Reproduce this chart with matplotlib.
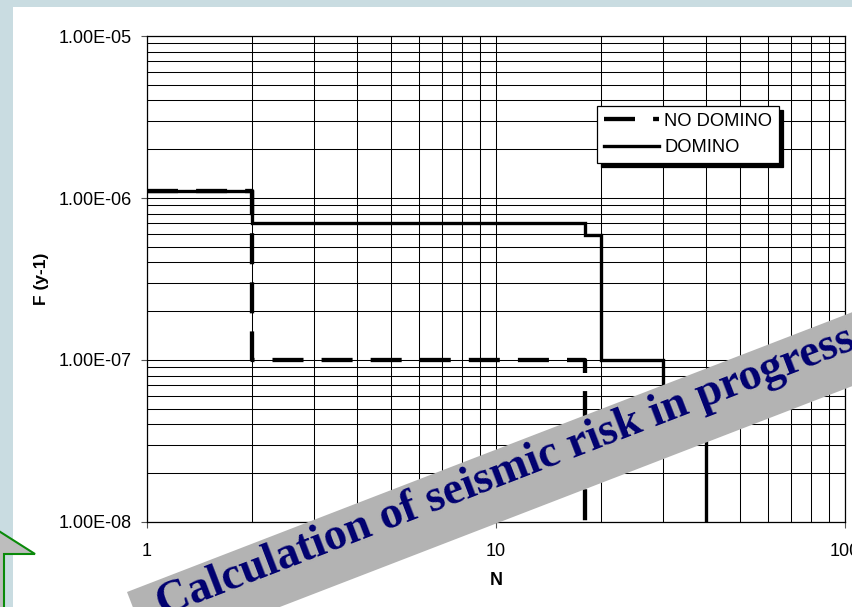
import numpy as np
import matplotlib
matplotlib.use("Agg")
import matplotlib.pyplot as plt
from matplotlib.patches import Rectangle, Polygon
from matplotlib.ticker import FixedLocator, LogLocator, NullFormatter, FuncFormatter

# ---- data ----
no_domino_N = [1, 2, 18]
no_domino_F = [1.1e-6, 1.0e-7, 1e-9]
domino_N = [1, 2, 18, 20, 30, 40]
domino_F = [1.1e-6, 7.0e-7, 5.9e-7, 1.0e-7, 5.0e-8, 1e-9]
x_ticks = [1, 10, 100]
y_ticks = [1e-8, 1e-7, 1e-6, 1e-5]
series_labels = ["NO DOMINO", "DOMINO"]
banner_text = "Calculation of seismic risk in progress"

W, H = 853, 607
fig = plt.figure(figsize=(W / 100, H / 100), dpi=100)
fig.patch.set_facecolor("#c9dce1")
fig.patches.append(Rectangle((13 / W, 0), (W - 13) / W, (H - 7) / H,
                             transform=fig.transFigure, facecolor="white",
                             edgecolor="none", zorder=-1))

font = "Liberation Sans"
L, R, T, B = 147, 845, 36, 522
ax = fig.add_axes([L / W, (H - B) / H, (R - L) / W, (B - T) / H])
ax.set_xscale("log")
ax.set_yscale("log")
ax.set_xlim(1, 100)
ax.set_ylim(1e-8, 1e-5)

ax.step(domino_N, domino_F, where="post", color="black", lw=2.4,
        label=series_labels[1], zorder=3, solid_joinstyle="miter")
ax.step(no_domino_N, no_domino_F, where="post", color="black", lw=3.1,
        dashes=(7.2, 4.2), label=series_labels[0], zorder=4)

ax.xaxis.set_major_locator(FixedLocator(x_ticks))
ax.yaxis.set_major_locator(FixedLocator(y_ticks))
ax.xaxis.set_minor_locator(LogLocator(base=10, subs=np.arange(2, 10), numticks=20))
ax.yaxis.set_minor_locator(LogLocator(base=10, subs=np.arange(2, 10), numticks=20))
ax.xaxis.set_minor_formatter(NullFormatter())
ax.yaxis.set_minor_formatter(NullFormatter())
ax.xaxis.set_major_formatter(FuncFormatter(lambda v, p: f"{v:g}"))
ax.yaxis.set_major_formatter(FuncFormatter(lambda v, p: f"{v:.2E}"))
ax.tick_params(which="major", direction="out", length=4, width=0.8, color="#555555",
               labelsize=13)
ax.tick_params(axis="y", which="major", pad=7)
ax.tick_params(axis="x", which="major", pad=11)
ax.tick_params(which="minor", length=0)
for lab in ax.get_xticklabels() + ax.get_yticklabels():
    lab.set_fontfamily(font)
ax.grid(which="both", color="black", lw=0.75)
ax.set_axisbelow(True)
for s in ax.spines.values():
    s.set_color("black")
    s.set_linewidth(0.9)

ax.set_xlabel("N", fontfamily=font, fontweight="bold", fontsize=13)
ax.set_ylabel("F (y-1)", fontfamily=font, fontweight="bold", fontsize=12.5)
ax.xaxis.set_label_coords(0.5, (B - 572) / (B - T))
ax.yaxis.set_label_coords((49 - L) / (R - L), 0.5)

h, l = ax.get_legend_handles_labels()
leg = ax.legend([h[1], h[0]], [l[1], l[0]], loc="upper left",
                bbox_to_anchor=((597 - L) / (R - L), (B - 106) / (B - T)),
                borderaxespad=0, fancybox=False, framealpha=1,
                edgecolor="black", handlelength=3.0, handletextpad=0.3,
                labelspacing=0.52, borderpad=0.36,
                prop={"family": font, "size": 13.2},
                shadow={"ox": 3, "oy": -3, "facecolor": "black",
                        "edgecolor": "black", "alpha": 1})
leg.get_frame().set_linewidth(0.9)

# ---- overlay: banner and arrow ----
ov = fig.add_axes([0, 0, 1, 1], zorder=10)
ov.set_xlim(0, W)
ov.set_ylim(H, 0)
ov.axis("off")
ov.patch.set_alpha(0)

theta = np.deg2rad(21.1)
d = np.array([np.cos(theta), -np.sin(theta)])
n = np.array([np.sin(theta), np.cos(theta)])
p1 = np.array([127.0, 592.0])
thick = 69
p2 = p1 + 1000 * d
ov.add_patch(Polygon([p1, p2, p2 + thick * n, p1 + thick * n], closed=True,
                     facecolor="#b3b3b3", edgecolor="none"))
ov.text(506, 472, banner_text, rotation=21.1, rotation_mode="anchor",
        ha="center", va="center", fontsize=33, fontweight="bold",
        fontfamily="Liberation Serif", color="#000070")

ov.add_patch(Polygon([(-50, 500), (35, 554), (4, 554), (4, 640), (-50, 640)],
                     closed=True, facecolor="#bdbdbd", edgecolor="#0a8a0a",
                     lw=1.5, clip_on=False))

fig.savefig("out.png", dpi=100, facecolor=fig.get_facecolor())
